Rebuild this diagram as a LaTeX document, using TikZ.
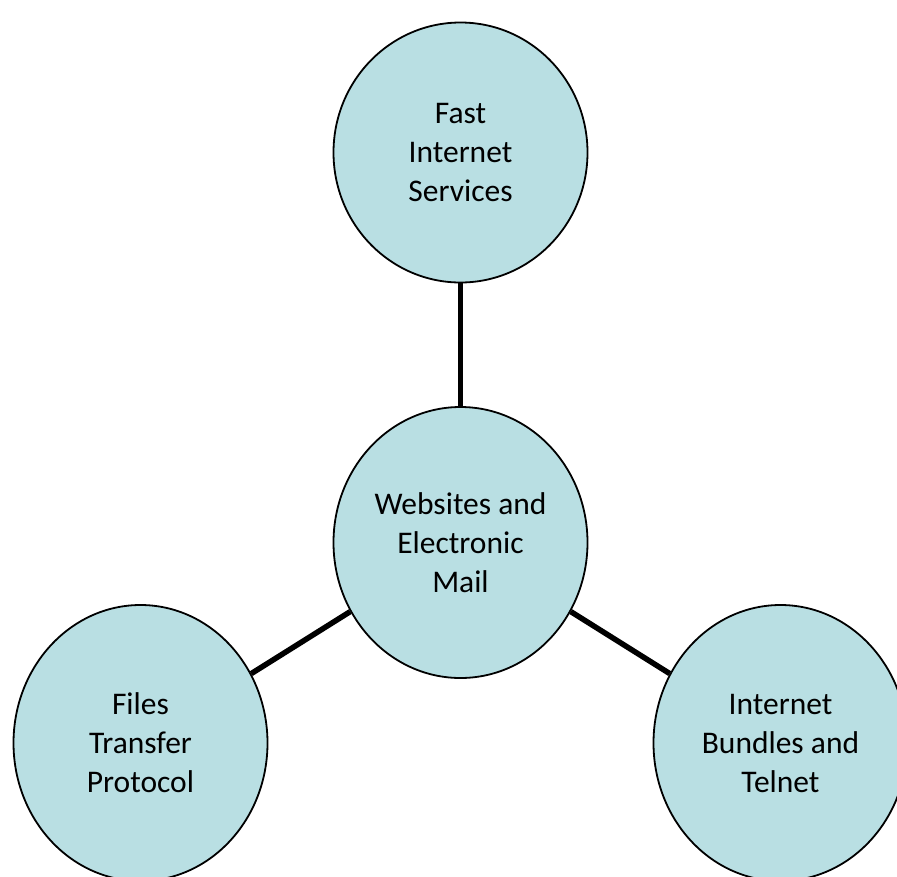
\documentclass[tikz,border=0pt]{standalone}
\usepackage{fontspec}
\setmainfont{Carlito}
\usetikzlibrary{shapes.geometric}
\definecolor{bubble}{RGB}{185,223,227}
\begin{document}
\begin{tikzpicture}[x=1pt,y=-1pt,
  bub/.style={ellipse,draw=black,line width=1.8pt,fill=bubble,inner sep=0pt,
    align=center,font=\fontsize{31.5}{39}\selectfont},
  link/.style={line width=5.5pt,draw=black}]
\useasboundingbox (0,0) rectangle (897,876);
\node[bub,minimum width=254,minimum height=260] (top) at (460.5,152.5) {Fast\\Internet\\Services};
\node[bub,minimum width=254,minimum height=271] (mid) at (460.5,542.5) {Websites and\\Electronic\\Mail};
\node[bub,minimum width=254,minimum height=276] (left) at (140.5,743) {Files\\Transfer\\Protocol};
\node[bub,minimum width=254,minimum height=276] (right) at (780.5,743) {Internet\\Bundles and\\Telnet};
\draw[link] (top) -- (mid);
\draw[link] (mid) -- (left);
\draw[link] (mid) -- (right);
\end{tikzpicture}
\end{document}
